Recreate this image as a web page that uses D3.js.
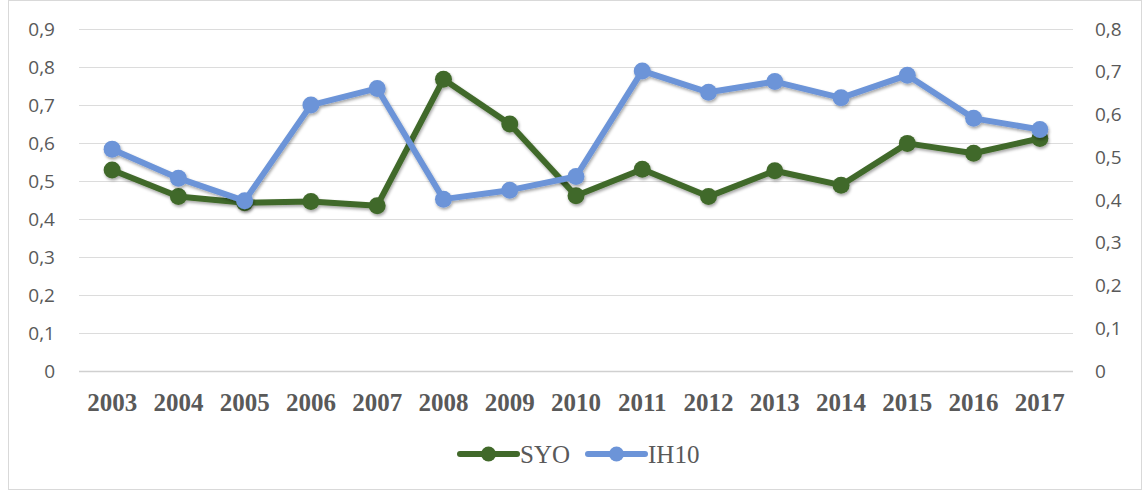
<!DOCTYPE html>
<html>
<head>
<meta charset="utf-8">
<script src="https://cdn.jsdelivr.net/npm/d3@7"></script>
<style>
  body { margin: 0; background: #fff; }
</style>
</head>
<body>
<div id="chart"></div>
<script>
// data
var years = ['2003', '2004', '2005', '2006', '2007', '2008', '2009', '2010', '2011', '2012', '2013', '2014', '2015', '2016', '2017'];
var syo = [0.529, 0.459, 0.443, 0.446, 0.435, 0.768, 0.650, 0.461, 0.531, 0.459, 0.527, 0.489, 0.599, 0.573, 0.612];
var ih10 = [0.519, 0.451, 0.398, 0.622, 0.661, 0.402, 0.423, 0.455, 0.702, 0.652, 0.677, 0.639, 0.692, 0.591, 0.565];
var leftTicks = [0, 0.1, 0.2, 0.3, 0.4, 0.5, 0.6, 0.7, 0.8, 0.9];
var rightTicks = [0, 0.1, 0.2, 0.3, 0.4, 0.5, 0.6, 0.7, 0.8];

var width = 1147, height = 492;
var plotLeft = 79, plotRight = 1073, plotTop = 29, plotBottom = 371;

var svg = d3.select('#chart').append('svg')
    .attr('width', width)
    .attr('height', height);

//soft drop shadow like the office chart
var filter = svg.append('defs').append('filter')
    .attr('id', 'shadow')
    .attr('x', '-20%').attr('y', '-20%')
    .attr('width', '140%').attr('height', '140%');
filter.append('feDropShadow')
    .attr('dx', 1).attr('dy', 2)
    .attr('stdDeviation', 1.8)
    .attr('flood-color', '#000')
    .attr('flood-opacity', 0.35);

//outer border
svg.append('rect')
    .attr('x', 8.5).attr('y', 0.5)
    .attr('width', 1133).attr('height', 489)
    .attr('fill', '#fff')
    .attr('stroke', '#d9d9d9')
    .attr('stroke-width', 1);

var x = d3.scaleBand().domain(years).range([plotLeft, plotRight]);
var yL = d3.scaleLinear().domain([0, 0.9]).range([plotBottom, plotTop]);
var yR = d3.scaleLinear().domain([0, 0.8]).range([plotBottom, plotTop]);

var fmt = function (d) { return d === 0 ? '0' : d3.format('.1f')(d).replace('.', ','); };

//gridlines from left axis
svg.append('g')
    .selectAll('line')
    .data(leftTicks)
    .enter()
    .append('line')
    .attr('x1', plotLeft).attr('x2', plotRight)
    .attr('y1', function (d) { return Math.round(yL(d)) + 0.5; })
    .attr('y2', function (d) { return Math.round(yL(d)) + 0.5; })
    .attr('stroke', function (d) { return d === 0 ? '#d0d0d0' : '#dcdcdc'; })
    .attr('stroke-width', function (d) { return d === 0 ? 1.5 : 1; });

//left axis labels
var axisL = d3.axisLeft(yL).tickValues(leftTicks).tickFormat(fmt).tickSize(0).tickPadding(0);
var gL = svg.append('g').attr('transform', 'translate(55,0)').call(axisL);
gL.select('.domain').remove();
gL.selectAll('text')
    .attr('fill', '#595959')
    .style('font-family', '"Open Sans", "Liberation Sans", sans-serif')
    .style('font-size', '19px');

//right axis labels
var axisR = d3.axisRight(yR).tickValues(rightTicks).tickFormat(fmt).tickSize(0).tickPadding(0);
var gR = svg.append('g').attr('transform', 'translate(1095,0)').call(axisR);
gR.select('.domain').remove();
gR.selectAll('text')
    .attr('fill', '#595959')
    .style('font-family', '"Open Sans", "Liberation Sans", sans-serif')
    .style('font-size', '19px');

//category axis
var axisX = d3.axisBottom(x).tickSize(0).tickPadding(0);
var gX = svg.append('g').attr('transform', 'translate(0,393)').call(axisX);
gX.select('.domain').remove();
gX.selectAll('text')
    .attr('fill', '#595959')
    .attr('dy', '0.72em')
    .style('font-family', '"Liberation Serif", "Times New Roman", serif')
    .style('font-weight', 'bold')
    .style('font-size', '25px');

var series = [
    { name: 'SYO', values: syo, scale: yL, color: '#41692A' },
    { name: 'IH10', values: ih10, scale: yR, color: '#6C94D8' }
];

var cx = function (i) { return x(years[i]) + x.bandwidth() / 2; };

series.forEach(function (s) {
    var g = svg.append('g').attr('filter', 'url(#shadow)');
    var line = d3.line()
        .x(function (d, i) { return cx(i); })
        .y(function (d) { return s.scale(d); });
    g.append('path')
        .datum(s.values)
        .attr('d', line)
        .attr('fill', 'none')
        .attr('stroke', s.color)
        .attr('stroke-width', 6)
        .attr('stroke-linejoin', 'round')
        .attr('stroke-linecap', 'round');
    g.selectAll('circle')
        .data(s.values)
        .enter()
        .append('circle')
        .attr('cx', function (d, i) { return cx(i); })
        .attr('cy', function (d) { return s.scale(d); })
        .attr('r', 8.5)
        .attr('fill', s.color);
});

//legend
var legendX = [460, 588];
var legend = svg.append('g')
    .selectAll('g')
    .data(series)
    .enter()
    .append('g')
    .attr('transform', function (d, i) { return 'translate(' + legendX[i] + ',454)'; });
legend.append('line')
    .attr('x1', 0).attr('x2', 57)
    .attr('stroke', function (d) { return d.color; })
    .attr('stroke-width', 6)
    .attr('stroke-linecap', 'round');
legend.append('circle')
    .attr('cx', 28.5).attr('r', 7.5)
    .attr('fill', function (d) { return d.color; });
legend.append('text')
    .attr('x', 60)
    .attr('dy', '0.35em')
    .attr('fill', '#595959')
    .style('font-family', '"Liberation Serif", "Times New Roman", serif')
    .style('font-size', '25px')
    .text(function (d) { return d.name; });
</script>
</body>
</html>
